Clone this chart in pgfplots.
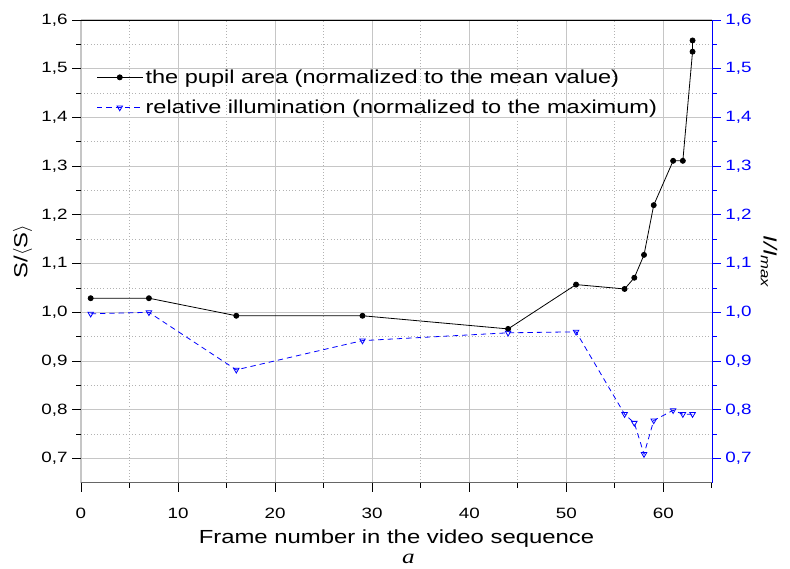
\documentclass[border=0pt]{standalone}
\usepackage{pgfplots}
\pgfplotsset{compat=1.18}
\usepackage{fontspec}
\setmainfont{Liberation Sans}[FakeStretch=1.26]
\newfontfamily\capfont{Liberation Serif}[FakeStretch=1.26]

\begin{document}
\begin{tikzpicture}
\pgfplotsset{
  every axis/.append style={
    scale only axis, width=473pt, height=347pt,
    xmin=0, xmax=65, ymin=0.65, ymax=1.6,
    /pgf/number format/assume math mode=true,
    tick label style={font=\fontsize{11.2}{12}\selectfont},
    label style={font=\fontsize{14.2}{16}\selectfont},
    y tick label style={/pgf/number format/fixed, /pgf/number format/fixed zerofill,
      /pgf/number format/precision=1, /pgf/number format/use comma},
    ytick={0.7,0.8,0.9,1.0,1.1,1.2,1.3,1.4,1.5,1.6},
    minor ytick={0.75,0.85,0.95,1.05,1.15,1.25,1.35,1.45,1.55},
    tick align=outside,
    major tick length=6.5pt, minor tick length=3.5pt,
    every tick/.style={line width=0.7pt},
  }
}
\begin{axis}[
  name=main,
  xtick={0,10,...,60}, minor xtick={5,15,...,65},
  x tick label style={yshift=-8.5pt},
  xlabel style={yshift=-1.5pt},
  grid=both,
  major grid style={gray!45, line width=0.8pt},
  minor grid style={gray!60, dotted, line width=0.6pt},
  ytick pos=left, xtick pos=bottom,
  axis line style={line width=0.7pt},
  x axis line style={draw=none},
  xlabel={Frame number in the video sequence},
  ylabel={S/$\langle$S$\rangle$},
  legend cell align=left,
  legend style={draw=none, fill=none, at={(0.018,0.905)}, anchor=north west,
    font=\fontsize{14}{15}\selectfont, row sep=7pt},
  legend image code/.code={\draw[mark repeat=2, mark phase=2] plot coordinates {(0cm,0cm) (0.6cm,0cm) (1.2cm,0cm)};},
]
\draw[black, line width=0.7pt] (rel axis cs:0,1) -- (rel axis cs:1,1);
\draw[black!60, line width=1.2pt] (rel axis cs:0,0) -- (rel axis cs:1,0);
\addplot[black, line width=0.6pt, mark=*, mark size=1.9pt] coordinates {
(1,1.029) (7,1.029) (16,0.993) (29,0.993) (44,0.966) (51,1.057)
(56,1.048) (57,1.071) (58,1.118) (59,1.220) (61,1.311) (62,1.311)
(63,1.535) (63,1.558)
};
\addlegendentry{the pupil area (normalized to the mean value)}
\addplot[blue, line width=0.6pt, dash pattern=on 4pt off 3pt, mark=triangle, mark size=2.4pt,
  mark options={solid, rotate=180, fill=white}] coordinates {
(1,0.997) (7,1.000) (16,0.882) (29,0.942) (44,0.958) (51,0.960)
(56,0.791) (57,0.773) (58,0.709) (59,0.778) (61,0.799) (62,0.791) (63,0.791)
};
\addlegendentry{relative illumination (normalized to the maximum)}
\end{axis}
\begin{axis}[
  axis x line=none,
  axis y line*=right,
  y axis line style={blue, line width=0.7pt},
  every y tick/.style={blue, line width=0.7pt},
  yticklabel style={blue},
  ylabel={\textit{I/I}\textsubscript{\textit{max}}},
  ylabel style={rotate=180, xshift=8pt},
]
\end{axis}
\node[font=\capfont\itshape\fontsize{15}{16}\selectfont] at ([xshift=9pt, yshift=-57pt]main.south) {a};
\pgfresetboundingbox
\path ([xshift=-60.7pt, yshift=-64.5pt]main.south west) rectangle ([xshift=58.5pt, yshift=15pt]main.north east);
\end{tikzpicture}
\end{document}
